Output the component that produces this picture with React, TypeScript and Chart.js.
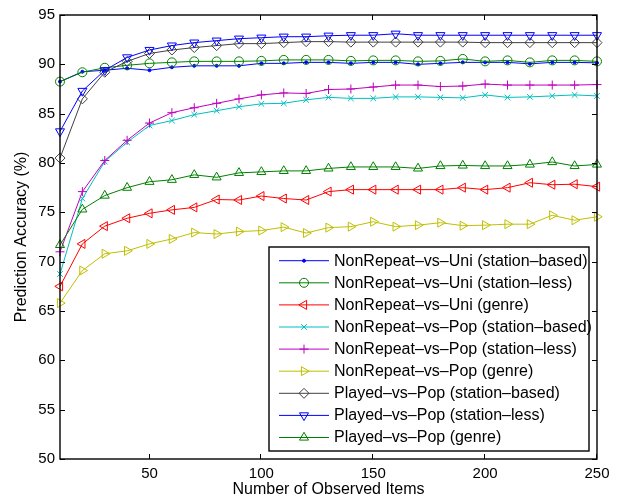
import React, { useEffect, useRef } from 'react';
import Chart from 'chart.js/auto';
import { drawPoint } from 'chart.js/helpers';

const observedItems = [10, 20, 30, 40, 50, 60, 70, 80, 90, 100, 110, 120, 130, 140, 150, 160, 170, 180, 190, 200, 210, 220, 230, 240, 250];

const nrUniStationBased = [88.25, 89.25, 89.4, 89.6, 89.4, 89.7, 89.85, 89.85, 89.85, 90.1, 90.1, 90.2, 90.2, 90.1, 90.2, 90.2, 90.0, 90.1, 90.2, 90.2, 90.2, 90.05, 90.2, 90.2, 90.15];
const nrUniStationLess = [88.25, 89.2, 89.65, 89.9, 90.1, 90.2, 90.3, 90.3, 90.3, 90.35, 90.45, 90.45, 90.45, 90.35, 90.4, 90.4, 90.3, 90.35, 90.55, 90.3, 90.4, 90.2, 90.4, 90.4, 90.3];
const nrUniGenre = [67.5, 71.8, 73.6, 74.4, 74.9, 75.25, 75.5, 76.3, 76.25, 76.65, 76.4, 76.25, 77.1, 77.3, 77.3, 77.3, 77.3, 77.3, 77.5, 77.3, 77.5, 78.0, 77.8, 77.85, 77.6];
const nrPopStationBased = [68.75, 76.4, 80.15, 82.1, 83.8, 84.3, 84.9, 85.3, 85.7, 86.0, 86.05, 86.4, 86.65, 86.55, 86.55, 86.7, 86.7, 86.65, 86.6, 86.9, 86.65, 86.7, 86.8, 86.9, 86.8];
const nrPopStationLess = [71.0, 77.1, 80.25, 82.3, 84.05, 85.1, 85.6, 86.05, 86.5, 86.9, 87.1, 87.05, 87.45, 87.5, 87.7, 87.9, 87.9, 87.75, 87.8, 88.0, 87.9, 87.9, 87.9, 87.9, 87.95];
const nrPopGenre = [65.8, 69.1, 70.8, 71.1, 71.8, 72.3, 72.95, 72.8, 73.05, 73.15, 73.5, 72.9, 73.45, 73.55, 74.05, 73.55, 73.7, 73.95, 73.65, 73.7, 73.8, 73.8, 74.7, 74.2, 74.55];
const playedStationBased = [80.5, 86.5, 89.2, 90.3, 91.1, 91.45, 91.7, 91.9, 92.1, 92.1, 92.2, 92.3, 92.3, 92.25, 92.25, 92.25, 92.25, 92.25, 92.25, 92.2, 92.2, 92.2, 92.2, 92.2, 92.2];
const playedStationLess = [83.2, 87.3, 89.4, 90.7, 91.45, 91.9, 92.2, 92.4, 92.6, 92.7, 92.8, 92.8, 92.9, 92.95, 92.95, 93.1, 92.95, 92.95, 92.95, 92.95, 92.95, 92.95, 92.95, 92.95, 92.95];
const playedGenre = [71.7, 75.3, 76.7, 77.5, 78.1, 78.3, 78.8, 78.55, 79.0, 79.1, 79.2, 79.2, 79.45, 79.6, 79.6, 79.6, 79.45, 79.7, 79.75, 79.7, 79.7, 79.85, 80.1, 79.7, 79.85];

const seriesLabels = [
  'NonRepeat–vs–Uni (station–based)',
  'NonRepeat–vs–Uni (station–less)',
  'NonRepeat–vs–Uni (genre)',
  'NonRepeat–vs–Pop (station–based)',
  'NonRepeat–vs–Pop (station–less)',
  'NonRepeat–vs–Pop (genre)',
  'Played–vs–Pop (station–based)',
  'Played–vs–Pop (station–less)',
  'Played–vs–Pop (genre)',
];
const seriesValues = [nrUniStationBased, nrUniStationLess, nrUniGenre, nrPopStationBased, nrPopStationLess, nrPopGenre, playedStationBased, playedStationLess, playedGenre];

const xTicks = [50, 100, 150, 200, 250];
const yTicks = [50, 55, 60, 65, 70, 75, 80, 85, 90, 95];

const styles = [
  { color: '#0000ff', point: 'circle', rot: 0, r: 1.5, fill: true },
  { color: '#008000', point: 'circle', rot: 0, r: 4.5, fill: false },
  { color: '#ff0000', point: 'triangle', rot: 270, r: 5.2, fill: false },
  { color: '#00bfbf', point: 'crossRot', rot: 0, r: 4, fill: false },
  { color: '#bf00bf', point: 'cross', rot: 0, r: 4.5, fill: false },
  { color: '#bfbf00', point: 'triangle', rot: 90, r: 5.2, fill: false },
  { color: '#404040', point: 'rectRot', rot: 0, r: 5, fill: false },
  { color: '#0000ff', point: 'triangle', rot: 180, r: 5.2, fill: false },
  { color: '#008000', point: 'triangle', rot: 0, r: 5.2, fill: false },
];

const FONT = '"Liberation Sans", Arial, Helvetica, sans-serif';

const framePlugin = {
  id: 'frame',
  afterDraw(chart: any) {
    const { ctx, chartArea } = chart;
    const { left, right, top, bottom } = chartArea;
    const xs = chart.scales.x;
    const ys = chart.scales.y;
    ctx.save();
    ctx.strokeStyle = '#000';
    ctx.lineWidth = 1.4;
    ctx.strokeRect(left, top, right - left, bottom - top);
    ctx.lineWidth = 1;
    ctx.beginPath();
    xTicks.forEach((v) => {
      const px = Math.round(xs.getPixelForValue(v)) - 0.5;
      ctx.moveTo(px, bottom);
      ctx.lineTo(px, bottom - 5);
      ctx.moveTo(px, top);
      ctx.lineTo(px, top + 5);
    });
    yTicks.forEach((v) => {
      const py = Math.round(ys.getPixelForValue(v)) + 0.5;
      ctx.moveTo(left, py);
      ctx.lineTo(left + 5, py);
      ctx.moveTo(right, py);
      ctx.lineTo(right - 5, py);
    });
    ctx.stroke();

    // legend
    const lx = 269, ly = 247, lw = 320, lh = 204;
    ctx.fillStyle = '#fff';
    ctx.fillRect(lx, ly, lw, lh);
    ctx.lineWidth = 1.4;
    ctx.strokeRect(lx, ly, lw, lh);
    ctx.font = `16px ${FONT}`;
    ctx.textBaseline = 'middle';
    ctx.textAlign = 'left';
    seriesLabels.forEach((label, i) => {
      const st = styles[i];
      const cy = 260.7 + i * 22.1;
      ctx.strokeStyle = st.color;
      ctx.lineWidth = 1;
      ctx.beginPath();
      ctx.moveTo(279, cy);
      ctx.lineTo(329, cy);
      ctx.stroke();
      ctx.fillStyle = st.fill ? st.color : 'rgba(0,0,0,0)';
      drawPoint(ctx, { pointStyle: st.point, rotation: st.rot, radius: st.r, borderWidth: 1 }, 304, cy);
      ctx.fillStyle = '#000';
      ctx.fillText(label, 334, cy + 0.5);
    });

    // axis titles
    ctx.fillStyle = '#000';
    ctx.font = `16px ${FONT}`;
    ctx.textAlign = 'center';
    ctx.textBaseline = 'middle';
    ctx.fillText('Number of Observed Items', (left + right) / 2, 490);
    ctx.translate(22, (top + bottom) / 2);
    ctx.rotate(-Math.PI / 2);
    ctx.fillText('Prediction Accuracy (%)', 0, 0);
    ctx.restore();
  },
};

export default function App() {
  const ref = useRef<HTMLCanvasElement>(null);
  useEffect(() => {
    if (!ref.current) return;
    const datasets = seriesLabels.map((label, i) => {
      const st = styles[i];
      return {
        label,
        data: observedItems.map((x, j) => ({ x, y: seriesValues[i][j] })),
        borderColor: st.color,
        backgroundColor: st.color,
        borderWidth: 1,
        pointStyle: st.point,
        pointRotation: st.rot,
        pointRadius: st.r,
        pointBorderColor: st.color,
        pointBackgroundColor: st.fill ? st.color : 'rgba(0,0,0,0)',
        pointBorderWidth: 1,
        tension: 0,
        clip: false,
        order: 9 - i,
      };
    });
    const chart = new Chart(ref.current, {
      type: 'line',
      data: { datasets },
      options: {
        animation: false,
        responsive: false,
        devicePixelRatio: 1,
        layout: { padding: { top: 15, right: 21, bottom: 0, left: 0 } },
        plugins: { legend: { display: false }, tooltip: { enabled: false } },
        scales: {
          x: {
            type: 'linear',
            min: 10,
            max: 250,
            grid: { display: false, drawTicks: false },
            border: { display: false },
            afterBuildTicks: (s: any) => { s.ticks = xTicks.map((v) => ({ value: v })); },
            afterFit: (s: any) => { s.height = 40; },
            ticks: { color: '#000', font: { family: FONT, size: 15 }, padding: 6, maxRotation: 0 },
          },
          y: {
            type: 'linear',
            min: 50,
            max: 95,
            grid: { display: false, drawTicks: false },
            border: { display: false },
            afterBuildTicks: (s: any) => { s.ticks = yTicks.map((v) => ({ value: v })); },
            afterFit: (s: any) => { s.width = 60; },
            ticks: { color: '#000', font: { family: FONT, size: 15 }, padding: 5 },
          },
        },
      },
      plugins: [framePlugin],
    });
    return () => chart.destroy();
  }, []);
  return (
    <canvas
      ref={ref}
      width={618}
      height={499}
      style={{ position: 'absolute', left: 0, top: 0, width: 618, height: 499 }}
    />
  );
}
